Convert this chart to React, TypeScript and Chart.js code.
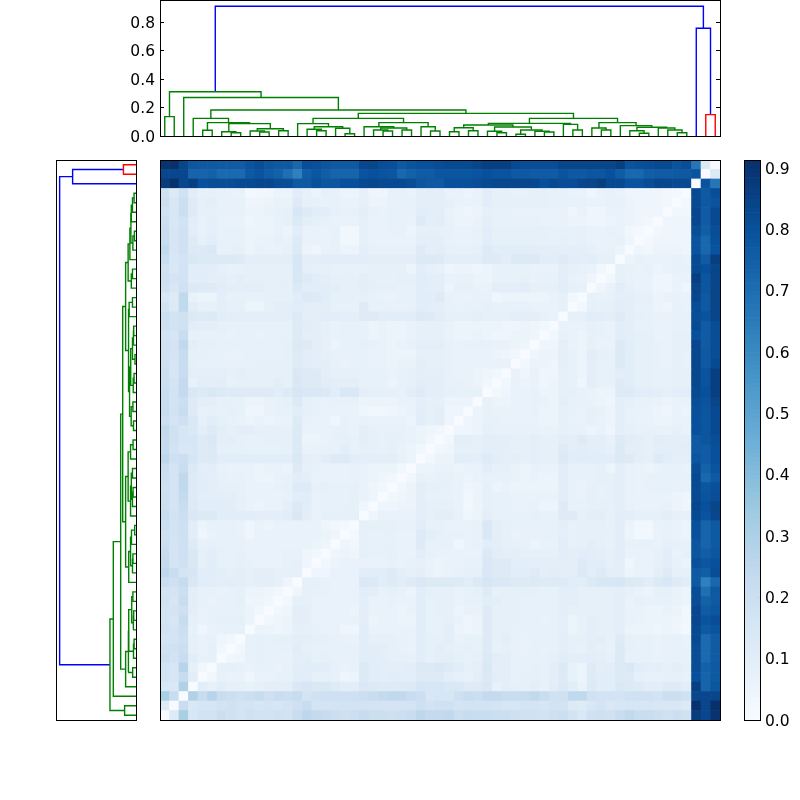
import React, { useEffect, useRef } from "react";
import { Chart, registerables } from "chart.js";

Chart.register(...registerables);

const LEAF_COUNT = 59;
const HEIGHT_MAX = 0.9555;
const COLOUR_MAX = 0.913;
const READING_OFFSET = 0.012;
const colourTicks = [0, 0.1, 0.2, 0.3, 0.4, 0.5, 0.6, 0.7, 0.8, 0.9];
const heightTicks = [0, 0.2, 0.4, 0.6, 0.8];
const blues = ["#f7fbff", "#deebf7", "#c6dbef", "#9ecae1", "#6baed6", "#4292c6", "#2171b5", "#08519c", "#08306b"];

// Tree merges, scipy convention: ids below 59 are leaves, id 59 + k is merge k.
const mergeLeft = [0, 4, 7, 6, 10, 9, 12, 64, 62, 60, 3, 16, 15, 19, 18, 71, 14, 23, 22, 25, 77, 21, 28, 27, 80, 75, 30, 32, 85, 35, 34, 37, 40, 39, 90, 89, 87, 43, 42, 95, 46, 45, 50, 49, 54, 53, 52, 102, 48, 100, 98, 84, 69, 2, 59, 57, 56, 113];
const mergeRight = [1, 5, 8, 61, 11, 63, 13, 65, 66, 67, 68, 17, 70, 20, 72, 73, 74, 24, 76, 26, 78, 79, 29, 81, 82, 83, 31, 33, 86, 36, 88, 38, 41, 91, 92, 93, 94, 44, 96, 97, 47, 99, 51, 101, 55, 103, 104, 105, 106, 107, 108, 109, 110, 111, 112, 58, 114, 115];
const mergeHeight = [0.136, 0.04, 0.023, 0.03, 0.028, 0.035, 0.037, 0.051, 0.087, 0.094, 0.124, 0.037, 0.047, 0.016, 0.054, 0.065, 0.087, 0.035, 0.042, 0.042, 0.056, 0.065, 0.035, 0.065, 0.094, 0.124, 0.03, 0.037, 0.058, 0.023, 0.033, 0.012, 0.028, 0.033, 0.042, 0.063, 0.077, 0.042, 0.082, 0.089, 0.042, 0.056, 0.019, 0.037, 0.023, 0.042, 0.056, 0.061, 0.073, 0.094, 0.124, 0.159, 0.183, 0.271, 0.311, 0.15, 0.757, 0.912];
const redMerges = [55];
const blueMerges = [56, 57];

// Distance matrix, lower triangle in hundredths; row 0 is the bottom row of the picture.
const distanceRows: number[][] = [
  [],
  [10],
  [30, 20],
  [13, 12, 28],
  [16, 14, 21, 9],
  [16, 14, 26, 7, 2],
  [19, 16, 20, 9, 6, 7],
  [17, 17, 19, 7, 5, 7, 2],
  [15, 15, 18, 7, 5, 6, 3, 2],
  [17, 15, 19, 6, 3, 5, 6, 6, 6],
  [16, 14, 21, 7, 5, 6, 7, 7, 7, 4],
  [16, 15, 18, 8, 5, 6, 6, 6, 6, 4, 2],
  [17, 14, 20, 8, 6, 5, 6, 6, 7, 3, 3, 2],
  [16, 15, 19, 8, 6, 6, 5, 6, 7, 4, 4, 3, 2],
  [20, 18, 21, 12, 9, 9, 8, 9, 8, 7, 8, 8, 7, 3],
  [24, 20, 15, 14, 9, 9, 8, 7, 8, 7, 8, 8, 7, 7, 7],
  [22, 15, 17, 12, 7, 9, 6, 6, 7, 6, 5, 5, 5, 6, 7, 3],
  [21, 15, 18, 12, 7, 9, 7, 6, 7, 5, 5, 5, 5, 6, 6, 3, 2],
  [19, 15, 18, 10, 6, 7, 6, 6, 6, 5, 5, 5, 5, 5, 5, 5, 4, 3],
  [18, 16, 18, 9, 3, 5, 6, 6, 5, 3, 5, 5, 5, 5, 5, 5, 5, 4, 3],
  [19, 16, 18, 9, 4, 6, 6, 6, 5, 3, 5, 4, 5, 5, 5, 5, 5, 3, 2, 1],
  [21, 16, 19, 12, 11, 11, 9, 9, 9, 9, 8, 8, 8, 9, 12, 9, 5, 7, 7, 7, 7],
  [19, 15, 20, 11, 9, 9, 9, 9, 7, 5, 4, 5, 5, 8, 11, 9, 5, 6, 6, 6, 7, 3],
  [19, 15, 22, 10, 8, 8, 8, 8, 7, 5, 5, 5, 5, 6, 9, 9, 5, 6, 6, 6, 7, 5, 3],
  [18, 15, 23, 10, 9, 8, 7, 7, 7, 5, 5, 5, 6, 7, 10, 10, 6, 7, 6, 6, 7, 5, 3, 2],
  [19, 15, 23, 10, 9, 8, 7, 6, 6, 5, 4, 4, 5, 6, 9, 8, 5, 5, 5, 5, 6, 5, 4, 3, 2],
  [20, 15, 20, 11, 8, 9, 6, 5, 5, 5, 4, 5, 5, 4, 10, 7, 6, 5, 5, 5, 6, 5, 4, 4, 4, 2],
  [24, 18, 19, 14, 10, 11, 9, 9, 9, 9, 9, 9, 9, 9, 12, 8, 7, 9, 10, 10, 9, 8, 8, 8, 8, 6, 4],
  [22, 16, 13, 13, 10, 11, 7, 7, 7, 6, 6, 6, 6, 7, 11, 5, 5, 6, 6, 8, 6, 7, 7, 6, 7, 5, 4, 2],
  [22, 17, 14, 14, 10, 12, 8, 8, 7, 6, 6, 7, 7, 7, 11, 4, 4, 5, 6, 7, 6, 8, 7, 6, 7, 6, 5, 4, 2],
  [23, 17, 14, 12, 8, 10, 8, 7, 8, 8, 7, 7, 7, 7, 11, 5, 5, 5, 6, 6, 5, 8, 7, 6, 6, 6, 5, 4, 3, 2],
  [19, 15, 18, 12, 7, 9, 7, 6, 5, 4, 5, 4, 5, 5, 10, 6, 5, 5, 3, 6, 5, 6, 5, 5, 5, 5, 4, 9, 7, 8, 3],
  [21, 16, 20, 10, 6, 7, 6, 7, 6, 3, 3, 5, 6, 6, 9, 7, 6, 5, 5, 5, 5, 3, 2, 2, 3, 4, 5, 9, 7, 8, 3, 3],
  [20, 16, 19, 10, 8, 8, 7, 6, 6, 4, 4, 5, 6, 7, 11, 7, 6, 5, 6, 6, 6, 4, 4, 4, 4, 5, 5, 8, 7, 7, 4, 4, 4],
  [20, 16, 22, 12, 11, 12, 11, 10, 10, 10, 10, 10, 9, 10, 14, 12, 12, 11, 9, 12, 12, 8, 7, 7, 7, 6, 9, 10, 8, 8, 7, 6, 6, 6],
  [19, 15, 22, 6, 9, 8, 9, 6, 7, 7, 7, 7, 8, 7, 12, 10, 10, 9, 8, 8, 8, 6, 6, 6, 4, 6, 7, 9, 8, 8, 6, 6, 5, 4, 2],
  [19, 14, 20, 8, 8, 8, 8, 7, 8, 7, 7, 7, 7, 7, 12, 10, 10, 8, 7, 7, 7, 6, 6, 6, 5, 6, 7, 8, 8, 8, 6, 5, 5, 4, 3, 2],
  [18, 14, 20, 7, 6, 6, 6, 6, 6, 6, 7, 7, 7, 7, 10, 9, 8, 8, 6, 5, 6, 6, 5, 5, 4, 5, 5, 8, 7, 7, 6, 5, 5, 5, 5, 5, 5],
  [17, 15, 21, 7, 7, 6, 6, 5, 5, 6, 6, 6, 6, 7, 10, 9, 8, 7, 6, 6, 6, 6, 5, 5, 4, 4, 4, 7, 7, 7, 6, 5, 5, 5, 5, 4, 3, 2],
  [17, 15, 23, 8, 7, 7, 6, 6, 6, 6, 6, 6, 6, 7, 11, 10, 8, 7, 4, 6, 6, 7, 6, 5, 4, 5, 6, 8, 8, 8, 6, 5, 6, 6, 6, 5, 5, 4, 3],
  [16, 14, 20, 6, 6, 6, 6, 5, 6, 6, 5, 6, 6, 6, 10, 8, 8, 7, 5, 6, 6, 6, 4, 5, 4, 4, 5, 7, 7, 7, 5, 4, 4, 5, 4, 3, 3, 4, 4, 3],
  [18, 16, 17, 9, 8, 8, 7, 6, 6, 6, 6, 6, 6, 6, 10, 9, 8, 7, 5, 6, 6, 6, 4, 5, 4, 4, 5, 7, 7, 7, 5, 4, 4, 4, 4, 4, 3, 3, 4, 3, 2],
  [19, 16, 17, 11, 10, 11, 9, 8, 8, 8, 8, 8, 8, 8, 10, 8, 8, 9, 9, 8, 8, 10, 10, 9, 9, 9, 9, 11, 10, 9, 7, 7, 7, 8, 7, 7, 7, 8, 8, 8, 6, 5],
  [16, 11, 23, 9, 6, 6, 8, 7, 7, 4, 4, 7, 8, 8, 9, 8, 8, 8, 6, 6, 6, 10, 6, 6, 6, 6, 6, 9, 8, 8, 6, 5, 6, 6, 7, 6, 6, 6, 6, 5, 5, 5, 7],
  [12, 10, 23, 5, 4, 4, 8, 6, 7, 6, 6, 7, 7, 7, 9, 11, 10, 9, 7, 7, 7, 7, 6, 5, 5, 6, 6, 9, 9, 10, 6, 5, 5, 6, 6, 3, 4, 4, 4, 4, 4, 5, 7, 2],
  [17, 13, 17, 11, 10, 10, 9, 8, 8, 8, 8, 7, 7, 7, 11, 9, 9, 9, 8, 7, 7, 8, 7, 7, 7, 6, 6, 9, 8, 8, 4, 7, 7, 5, 5, 8, 8, 8, 9, 7, 7, 7, 9, 7, 6],
  [18, 15, 16, 9, 9, 8, 8, 7, 8, 7, 7, 7, 7, 7, 13, 10, 9, 8, 7, 7, 7, 8, 7, 6, 6, 7, 7, 9, 8, 8, 5, 5, 6, 4, 4, 6, 6, 6, 7, 5, 6, 6, 9, 6, 5, 3],
  [17, 12, 16, 9, 9, 9, 7, 6, 6, 7, 7, 7, 7, 7, 13, 8, 7, 7, 6, 6, 6, 6, 7, 7, 7, 7, 4, 9, 7, 6, 3, 4, 4, 3, 4, 6, 6, 6, 6, 5, 5, 5, 8, 7, 6, 5, 2],
  [20, 13, 15, 12, 11, 11, 11, 11, 10, 8, 8, 8, 8, 8, 14, 8, 8, 9, 9, 9, 9, 9, 8, 8, 8, 8, 8, 11, 11, 10, 8, 8, 8, 8, 10, 10, 9, 11, 11, 11, 9, 9, 10, 9, 8, 9, 7, 7],
  [23, 14, 17, 11, 10, 12, 6, 7, 7, 4, 6, 5, 5, 7, 11, 4, 3, 5, 6, 4, 4, 8, 6, 6, 6, 6, 6, 10, 8, 9, 7, 6, 6, 7, 10, 9, 9, 9, 9, 9, 8, 8, 8, 8, 8, 7, 5, 6, 4],
  [20, 14, 17, 10, 7, 9, 6, 6, 6, 4, 5, 5, 7, 5, 10, 5, 5, 5, 6, 2, 2, 7, 5, 5, 5, 5, 5, 8, 8, 8, 6, 5, 5, 6, 9, 7, 7, 7, 7, 7, 7, 6, 7, 6, 7, 5, 5, 5, 6, 3],
  [20, 14, 17, 9, 6, 8, 6, 6, 6, 4, 4, 4, 6, 4, 9, 5, 5, 5, 6, 2, 2, 7, 5, 5, 6, 6, 4, 7, 7, 7, 6, 5, 5, 6, 9, 7, 7, 7, 7, 7, 7, 6, 6, 6, 7, 5, 5, 6, 5, 2, 1],
  [19, 13, 16, 9, 6, 8, 5, 5, 5, 3, 4, 4, 6, 7, 11, 8, 7, 6, 5, 5, 5, 7, 5, 5, 6, 6, 5, 10, 8, 9, 6, 4, 4, 5, 8, 6, 6, 6, 6, 6, 5, 5, 5, 4, 4, 3, 3, 4, 5, 4, 3, 2],
  [17, 13, 19, 10, 7, 7, 6, 6, 6, 4, 4, 5, 6, 7, 13, 10, 9, 9, 7, 6, 6, 8, 6, 5, 6, 6, 6, 9, 8, 8, 5, 4, 3, 4, 7, 6, 6, 5, 5, 5, 5, 5, 5, 3, 5, 3, 3, 5, 5, 4, 3, 3, 3],
  [19, 13, 19, 10, 7, 8, 6, 6, 6, 3, 3, 4, 5, 5, 10, 7, 6, 5, 6, 5, 5, 7, 4, 4, 6, 6, 6, 8, 8, 8, 7, 5, 5, 5, 9, 7, 7, 7, 7, 7, 7, 6, 6, 6, 6, 5, 5, 6, 6, 4, 3, 3, 3, 2],
  [17, 11, 17, 9, 6, 7, 6, 5, 5, 1, 2, 2, 4, 4, 9, 7, 4, 7, 6, 4, 4, 7, 3, 3, 6, 6, 5, 8, 9, 8, 5, 5, 4, 5, 9, 7, 7, 6, 6, 7, 7, 6, 6, 5, 5, 3, 5, 6, 5, 3, 3, 3, 3, 2, 1],
  [86, 90, 82, 85, 79, 80, 80, 80, 81, 81, 82, 82, 80, 80, 76, 76, 79, 77, 77, 79, 79, 81, 82, 81, 81, 81, 80, 77, 76, 76, 79, 79, 79, 80, 81, 82, 82, 82, 82, 82, 79, 81, 80, 80, 82, 83, 85, 81, 81, 78, 78, 80, 82, 82, 81, 81],
  [82, 82, 82, 72, 72, 73, 70, 70, 70, 76, 78, 75, 73, 68, 62, 74, 77, 74, 72, 72, 72, 78, 79, 78, 77, 71, 73, 75, 75, 77, 77, 77, 77, 78, 79, 78, 78, 76, 76, 75, 75, 75, 78, 76, 76, 77, 77, 79, 75, 71, 71, 74, 75, 75, 76, 76, 78],
  [89, 90, 83, 77, 76, 76, 75, 75, 75, 78, 80, 77, 76, 76, 71, 80, 79, 77, 76, 76, 76, 82, 83, 80, 79, 76, 78, 79, 79, 80, 81, 81, 81, 83, 85, 85, 85, 81, 80, 80, 80, 80, 83, 83, 83, 83, 83, 83, 85, 78, 79, 80, 81, 81, 78, 80, 66, 11],
];

const cellValue = (row: number, col: number): number => {
  if (row === col) return 0;
  const hi = Math.max(row, col);
  const lo = Math.min(row, col);
  return distanceRows[hi][lo] / 100 + READING_OFFSET;
};

const hexToRgb = (hex: string) => [1, 3, 5].map((i) => parseInt(hex.slice(i, i + 2), 16));

const blueFor = (value: number): string => {
  const t = Math.min(1, Math.max(0, value / COLOUR_MAX)) * (blues.length - 1);
  const i = Math.min(blues.length - 2, Math.floor(t));
  const a = hexToRgb(blues[i]);
  const b = hexToRgb(blues[i + 1]);
  const f = t - i;
  const c = a.map((v, k) => Math.round(v + (b[k] - v) * f));
  return `rgb(${c[0]},${c[1]},${c[2]})`;
};

const frame = {
  id: "frame",
  afterDraw(chart: any) {
    const { ctx, chartArea: a } = chart;
    ctx.save();
    ctx.strokeStyle = "#000";
    ctx.lineWidth = 1;
    ctx.strokeRect(a.left + 0.5, a.top + 0.5, a.right - a.left, a.bottom - a.top);
    ctx.restore();
  },
};

const fitTo = (width: number) => (scale: any) => {
  scale.width = width;
  scale.paddingTop = 0;
  scale.paddingBottom = 0;
  scale.paddingLeft = 0;
  scale.paddingRight = 0;
};

const tickFont = { family: "'DejaVu Sans'", size: 15.5 };

const baseOptions = (padding: any) => ({
  responsive: false,
  animation: false as const,
  events: [],
  layout: { padding },
  plugins: { legend: { display: false }, tooltip: { enabled: false } },
});

const valueAxis = (position: string, min: number, max: number, ticks: number[], labels: boolean, width: number) => ({
  position,
  min,
  max,
  afterFit: fitTo(width),
  afterBuildTicks: (scale: any) => {
    scale.ticks = ticks.map((value) => ({ value }));
  },
  border: { display: false },
  grid: { display: true, drawOnChartArea: false, drawTicks: true, tickLength: -4, tickColor: "#000", tickWidth: 1 },
  ticks: {
    display: labels,
    color: "#000",
    font: tickFont,
    padding: 9,
    labelOffset: 1.5,
    autoSkip: false,
    maxRotation: 0,
    includeBounds: false,
    callback: (v: number) => Number(v).toFixed(1),
  },
});

// Runs the merge table into one four-point link per merge.
const buildLinks = () => {
  const centre: number[] = [];
  const top: number[] = [];
  for (let i = 0; i < LEAF_COUNT; i++) {
    centre[i] = i + 0.5;
    top[i] = 0;
  }
  return mergeHeight.map((h, k) => {
    const a = mergeLeft[k];
    const b = mergeRight[k];
    const id = LEAF_COUNT + k;
    centre[id] = (centre[a] + centre[b]) / 2;
    top[id] = h;
    const colour = redMerges.includes(k) ? "#ff0000" : blueMerges.includes(k) ? "#0000ff" : "#008000";
    return {
      colour,
      pts: [
        [centre[a], top[a]],
        [centre[a], h],
        [centre[b], h],
        [centre[b], top[b]],
      ],
    };
  });
};

const linkDatasets = (horizontal: boolean) =>
  buildLinks().map((l) => ({
    data: l.pts.map(([p, h]) => (horizontal ? { x: p, y: h } : { x: h, y: p })),
    showLine: true,
    borderColor: l.colour,
    borderWidth: 1.4,
    pointRadius: 0,
    tension: 0,
    fill: false,
    yAxisID: "y",
    xAxisID: "x",
  }));

const heatConfig = () => {
  const labels = Array.from({ length: LEAF_COUNT }, (_, i) => String(i));
  const datasets = Array.from({ length: LEAF_COUNT }, (_, row) => ({
    data: labels.map(() => 1),
    backgroundColor: labels.map((_, col) => blueFor(cellValue(row, col))),
    borderWidth: 0,
    barPercentage: 1,
    categoryPercentage: 1,
  }));
  return {
    type: "bar",
    data: { labels, datasets },
    options: {
      ...baseOptions({ left: 160, right: 80, top: 160, bottom: 80 }),
      scales: {
        x: { stacked: true, display: false },
        y: { stacked: true, display: false, min: 0, max: LEAF_COUNT },
      },
    },
    plugins: [frame],
  };
};

const barConfig = () => {
  const levels = 128;
  const step = COLOUR_MAX / levels;
  const datasets = Array.from({ length: levels }, (_, i) => ({
    data: [step],
    backgroundColor: blueFor((i + 0.5) * step),
    borderWidth: 0,
    barPercentage: 1,
    categoryPercentage: 1,
  }));
  return {
    type: "bar",
    data: { labels: ["scale"], datasets },
    options: {
      ...baseOptions({ left: 744, right: 4, top: 160, bottom: 80 }),
      scales: {
        x: { stacked: true, display: false },
        y: { ...valueAxis("right", 0, COLOUR_MAX, colourTicks, true, 36), stacked: true },
      },
    },
    plugins: [frame],
  };
};

const topConfig = () => ({
  type: "scatter",
  data: { datasets: linkDatasets(true) },
  options: {
    ...baseOptions({ left: 120, right: 80, top: 0, bottom: 664 }),
    scales: {
      x: { type: "linear", display: false, min: 0, max: LEAF_COUNT },
      y: valueAxis("left", 0, HEIGHT_MAX, heightTicks, true, 40),
      yRight: valueAxis("right", 0, HEIGHT_MAX, heightTicks, false, 0),
    },
  },
  plugins: [frame],
});

const leftConfig = () => ({
  type: "scatter",
  data: { datasets: linkDatasets(false) },
  options: {
    ...baseOptions({ left: 56, right: 664, top: 160, bottom: 80 }),
    scales: {
      x: { type: "linear", display: false, reverse: true, min: 0, max: HEIGHT_MAX },
      y: { type: "linear", display: false, min: 0, max: LEAF_COUNT },
    },
  },
  plugins: [frame],
});

const Layer: React.FC<{ make: () => any }> = ({ make }) => {
  const ref = useRef<HTMLCanvasElement | null>(null);
  useEffect(() => {
    const chart = new Chart(ref.current as HTMLCanvasElement, make());
    return () => chart.destroy();
  }, [make]);
  return (
    <canvas
      ref={ref}
      width={800}
      height={800}
      style={{ position: "absolute", left: 0, top: 0, width: 800, height: 800 }}
    />
  );
};

export default function App() {
  return (
    <div style={{ position: "absolute", left: 0, top: 0, width: 800, height: 800, background: "#fff" }}>
      <Layer make={heatConfig} />
      <Layer make={barConfig} />
      <Layer make={topConfig} />
      <Layer make={leftConfig} />
    </div>
  );
}
